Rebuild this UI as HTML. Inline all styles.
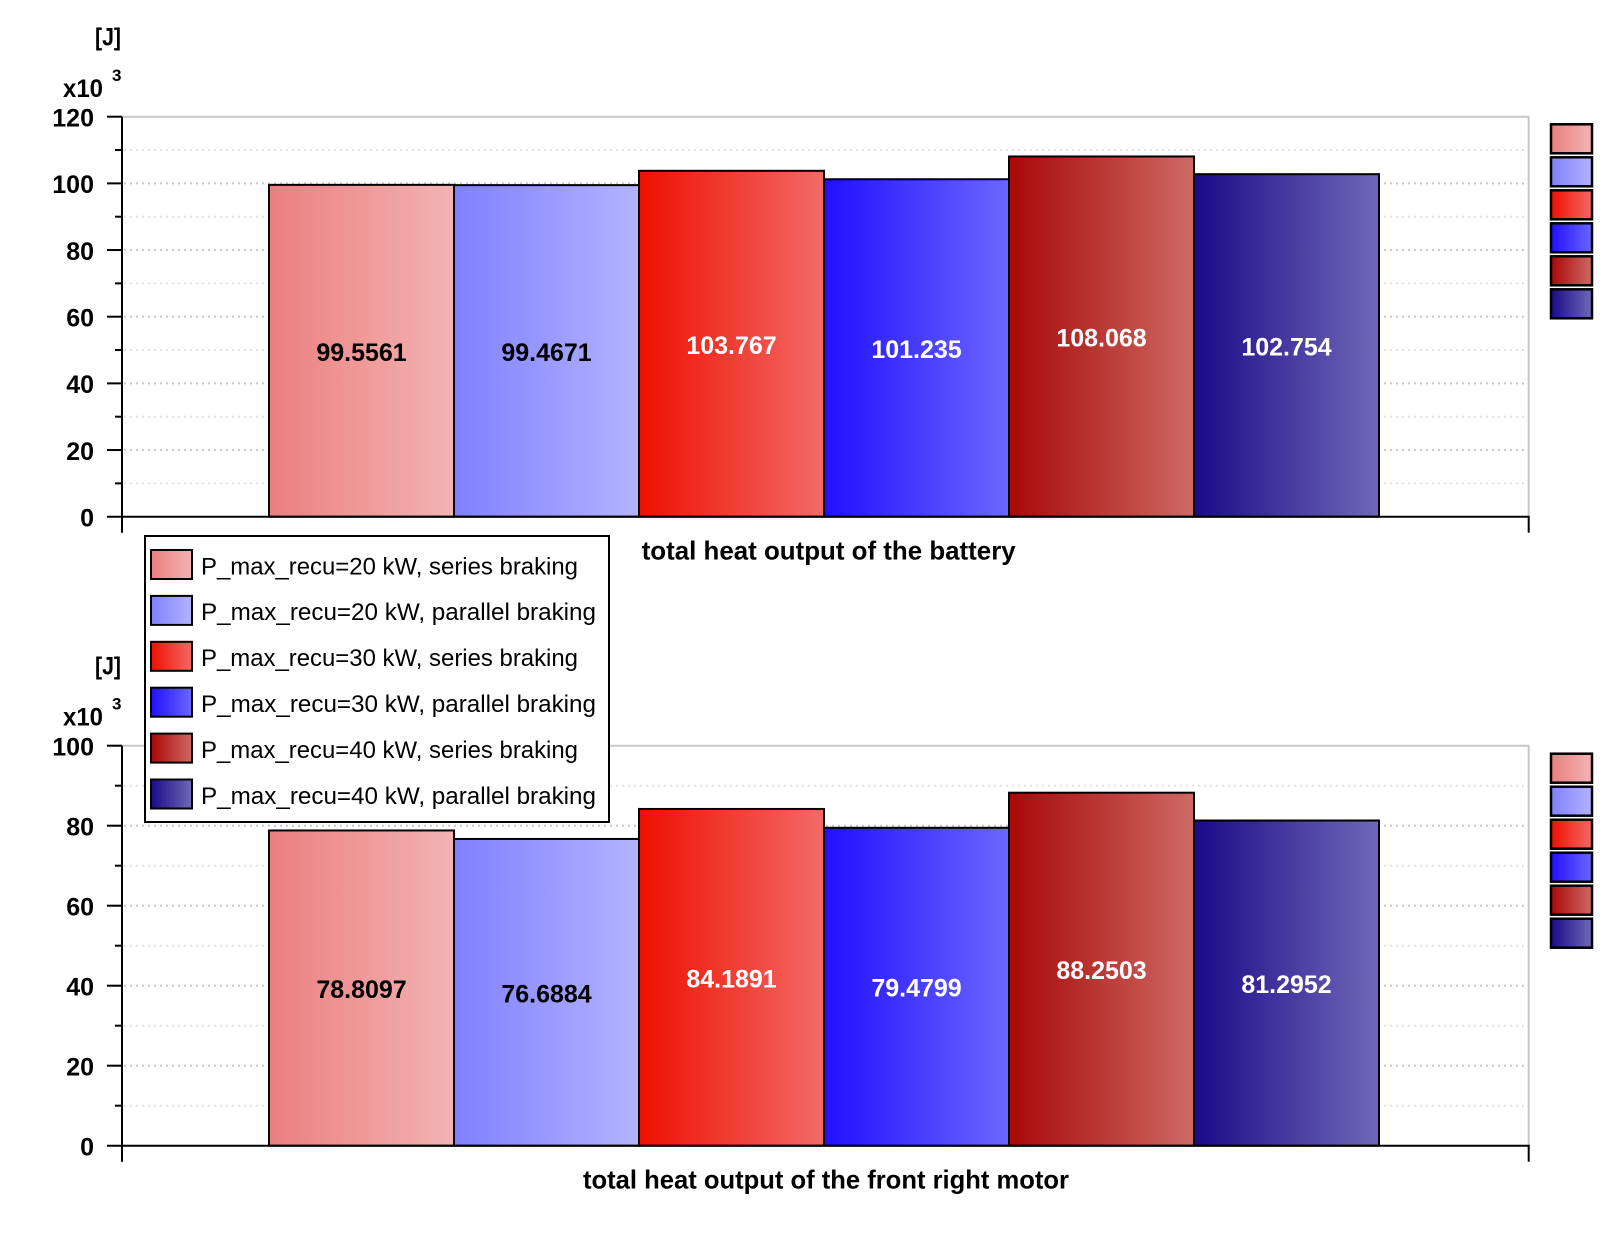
<!DOCTYPE html>
<html>
<head>
<meta charset="utf-8">
<style>
html,body{margin:0;padding:0;background:#fff;}
svg{display:block;}
text{font-family:"Liberation Sans",Arial,sans-serif;}
.b{font-weight:bold;font-size:25px;fill:#000;}
.t{font-weight:bold;font-size:26px;fill:#000;}
.lg{font-size:24px;fill:#000;}
</style>
</head>
<body>
<svg width="1600" height="1259" viewBox="0 0 1600 1259" xmlns="http://www.w3.org/2000/svg">
<defs>
<linearGradient id="g1" x1="0" x2="1" y1="0" y2="0"><stop offset="0" stop-color="#EB7F7F"/><stop offset="1" stop-color="#F3B3B3"/></linearGradient>
<linearGradient id="g2" x1="0" x2="1" y1="0" y2="0"><stop offset="0" stop-color="#8080FF"/><stop offset="1" stop-color="#B3B3FF"/></linearGradient>
<linearGradient id="g3" x1="0" x2="1" y1="0" y2="0"><stop offset="0" stop-color="#EE1000"/><stop offset="1" stop-color="#F36A66"/></linearGradient>
<linearGradient id="g4" x1="0" x2="1" y1="0" y2="0"><stop offset="0" stop-color="#200FFF"/><stop offset="1" stop-color="#6B67FF"/></linearGradient>
<linearGradient id="g5" x1="0" x2="1" y1="0" y2="0"><stop offset="0" stop-color="#A80808"/><stop offset="1" stop-color="#CE6964"/></linearGradient>
<linearGradient id="g6" x1="0" x2="1" y1="0" y2="0"><stop offset="0" stop-color="#1A0A88"/><stop offset="1" stop-color="#6E69B7"/></linearGradient>
</defs>

<!-- ================= TOP CHART ================= -->
<g stroke-width="2" stroke-dasharray="2 4">
<line x1="124" x2="1527" y1="150.03" y2="150.03" stroke="#e2e2e2"/>
<line x1="124" x2="1527" y1="183.37" y2="183.37" stroke="#c8c8c8"/>
<line x1="124" x2="1527" y1="216.7" y2="216.7" stroke="#e2e2e2"/>
<line x1="124" x2="1527" y1="250.03" y2="250.03" stroke="#c8c8c8"/>
<line x1="124" x2="1527" y1="283.37" y2="283.37" stroke="#e2e2e2"/>
<line x1="124" x2="1527" y1="316.7" y2="316.7" stroke="#c8c8c8"/>
<line x1="124" x2="1527" y1="350.03" y2="350.03" stroke="#e2e2e2"/>
<line x1="124" x2="1527" y1="383.37" y2="383.37" stroke="#c8c8c8"/>
<line x1="124" x2="1527" y1="416.7" y2="416.7" stroke="#e2e2e2"/>
<line x1="124" x2="1527" y1="450.03" y2="450.03" stroke="#c8c8c8"/>
<line x1="124" x2="1527" y1="483.37" y2="483.37" stroke="#e2e2e2"/>
</g>
<line x1="122" x2="1529" y1="116.7" y2="116.7" stroke="#c8c8c8" stroke-width="2"/>
<line x1="1528.7" x2="1528.7" y1="116.7" y2="516.7" stroke="#c8c8c8" stroke-width="2"/>

<g stroke="#000" stroke-width="2">
<rect x="269" y="184.85" width="185" height="331.85" fill="url(#g1)"/>
<rect x="454" y="185.13" width="185" height="331.57" fill="url(#g2)"/>
<rect x="639" y="170.81" width="185" height="345.89" fill="url(#g3)"/>
<rect x="824" y="179.25" width="185" height="337.45" fill="url(#g4)"/>
<rect x="1009" y="156.47" width="185" height="360.23" fill="url(#g5)"/>
<rect x="1194" y="174.19" width="185" height="342.51" fill="url(#g6)"/>
</g>
<g class="b" text-anchor="middle">
<text x="361.5" y="360.8">99.5561</text>
<text x="546.5" y="360.9">99.4671</text>
<text x="731.5" y="353.8" style="fill:#fff">103.767</text>
<text x="916.5" y="358" style="fill:#fff">101.235</text>
<text x="1101.5" y="346.6" style="fill:#fff">108.068</text>
<text x="1286.5" y="355.4" style="fill:#fff">102.754</text>
</g>

<g stroke="#000" stroke-width="2">
<line x1="122" x2="122" y1="116.7" y2="532.7"/>
<line x1="107" x2="1529.7" y1="516.7" y2="516.7"/>
<line x1="1528.7" x2="1528.7" y1="516.7" y2="532.7"/>
<line x1="107" x2="122" y1="116.7" y2="116.7"/>
<line x1="107" x2="122" y1="183.37" y2="183.37"/>
<line x1="107" x2="122" y1="250.03" y2="250.03"/>
<line x1="107" x2="122" y1="316.7" y2="316.7"/>
<line x1="107" x2="122" y1="383.37" y2="383.37"/>
<line x1="107" x2="122" y1="450.03" y2="450.03"/>
<line x1="115" x2="122" y1="150.03" y2="150.03"/>
<line x1="115" x2="122" y1="216.7" y2="216.7"/>
<line x1="115" x2="122" y1="283.37" y2="283.37"/>
<line x1="115" x2="122" y1="350.03" y2="350.03"/>
<line x1="115" x2="122" y1="416.7" y2="416.7"/>
<line x1="115" x2="122" y1="483.37" y2="483.37"/>
</g>
<g class="b" text-anchor="end">
<text x="94" y="126.5">120</text>
<text x="94" y="193.2">100</text>
<text x="94" y="259.8">80</text>
<text x="94" y="326.5">60</text>
<text x="94" y="393.2">40</text>
<text x="94" y="459.8">20</text>
<text x="94" y="526.5">0</text>
</g>
<text class="b" x="95" y="45.5" textLength="26" lengthAdjust="spacingAndGlyphs">[J]</text>
<text class="b" x="63" y="97" textLength="40" lengthAdjust="spacingAndGlyphs">x10</text>
<text class="b" x="112" y="81" style="font-size:17px">3</text>
<text class="t" x="641.7" y="559.5" textLength="374" lengthAdjust="spacingAndGlyphs">total heat output of the battery</text>

<g stroke="#000" stroke-width="2.5">
<rect x="1551" y="124.3" width="41" height="29" fill="url(#g1)"/>
<rect x="1551" y="157.3" width="41" height="29" fill="url(#g2)"/>
<rect x="1551" y="190.3" width="41" height="29" fill="url(#g3)"/>
<rect x="1551" y="223.3" width="41" height="29" fill="url(#g4)"/>
<rect x="1551" y="256.3" width="41" height="29" fill="url(#g5)"/>
<rect x="1551" y="289.3" width="41" height="29" fill="url(#g6)"/>
</g>

<!-- ================= BOTTOM CHART ================= -->
<g stroke-width="2" stroke-dasharray="2 4">
<line x1="124" x2="1527" y1="785.7" y2="785.7" stroke="#e2e2e2"/>
<line x1="124" x2="1527" y1="825.7" y2="825.7" stroke="#c8c8c8"/>
<line x1="124" x2="1527" y1="865.7" y2="865.7" stroke="#e2e2e2"/>
<line x1="124" x2="1527" y1="905.7" y2="905.7" stroke="#c8c8c8"/>
<line x1="124" x2="1527" y1="945.7" y2="945.7" stroke="#e2e2e2"/>
<line x1="124" x2="1527" y1="985.7" y2="985.7" stroke="#c8c8c8"/>
<line x1="124" x2="1527" y1="1025.7" y2="1025.7" stroke="#e2e2e2"/>
<line x1="124" x2="1527" y1="1065.7" y2="1065.7" stroke="#c8c8c8"/>
<line x1="124" x2="1527" y1="1105.7" y2="1105.7" stroke="#e2e2e2"/>
</g>
<line x1="122" x2="1529" y1="745.7" y2="745.7" stroke="#c8c8c8" stroke-width="2"/>
<line x1="1528.7" x2="1528.7" y1="745.7" y2="1145.7" stroke="#c8c8c8" stroke-width="2"/>

<g stroke="#000" stroke-width="2">
<rect x="269" y="830.46" width="185" height="315.24" fill="url(#g1)"/>
<rect x="454" y="838.95" width="185" height="306.75" fill="url(#g2)"/>
<rect x="639" y="808.94" width="185" height="336.76" fill="url(#g3)"/>
<rect x="824" y="827.78" width="185" height="317.92" fill="url(#g4)"/>
<rect x="1009" y="792.7" width="185" height="353" fill="url(#g5)"/>
<rect x="1194" y="820.52" width="185" height="325.18" fill="url(#g6)"/>
</g>
<g class="b" text-anchor="middle">
<text x="361.5" y="998.1">78.8097</text>
<text x="546.5" y="1002.3">76.6884</text>
<text x="731.5" y="987.3" style="fill:#fff">84.1891</text>
<text x="916.5" y="996.7" style="fill:#fff">79.4799</text>
<text x="1101.5" y="979.2" style="fill:#fff">88.2503</text>
<text x="1286.5" y="993.1" style="fill:#fff">81.2952</text>
</g>

<g stroke="#000" stroke-width="2">
<line x1="122" x2="122" y1="745.7" y2="1161.7"/>
<line x1="107" x2="1529.7" y1="1145.7" y2="1145.7"/>
<line x1="1528.7" x2="1528.7" y1="1145.7" y2="1161.7"/>
<line x1="107" x2="122" y1="745.7" y2="745.7"/>
<line x1="107" x2="122" y1="825.7" y2="825.7"/>
<line x1="107" x2="122" y1="905.7" y2="905.7"/>
<line x1="107" x2="122" y1="985.7" y2="985.7"/>
<line x1="107" x2="122" y1="1065.7" y2="1065.7"/>
<line x1="115" x2="122" y1="785.7" y2="785.7"/>
<line x1="115" x2="122" y1="865.7" y2="865.7"/>
<line x1="115" x2="122" y1="945.7" y2="945.7"/>
<line x1="115" x2="122" y1="1025.7" y2="1025.7"/>
<line x1="115" x2="122" y1="1105.7" y2="1105.7"/>
</g>
<g class="b" text-anchor="end">
<text x="94" y="755.5">100</text>
<text x="94" y="835.5">80</text>
<text x="94" y="915.5">60</text>
<text x="94" y="995.5">40</text>
<text x="94" y="1075.5">20</text>
<text x="94" y="1155.5">0</text>
</g>
<text class="b" x="95" y="674.5" textLength="26" lengthAdjust="spacingAndGlyphs">[J]</text>
<text class="b" x="63" y="725.3" textLength="40" lengthAdjust="spacingAndGlyphs">x10</text>
<text class="b" x="112" y="709.5" style="font-size:17px">3</text>
<text class="t" x="583" y="1188.5" textLength="486" lengthAdjust="spacingAndGlyphs">total heat output of the front right motor</text>

<g stroke="#000" stroke-width="2.5">
<rect x="1551" y="753.7" width="41" height="29" fill="url(#g1)"/>
<rect x="1551" y="786.7" width="41" height="29" fill="url(#g2)"/>
<rect x="1551" y="819.7" width="41" height="29" fill="url(#g3)"/>
<rect x="1551" y="852.7" width="41" height="29" fill="url(#g4)"/>
<rect x="1551" y="885.7" width="41" height="29" fill="url(#g5)"/>
<rect x="1551" y="918.7" width="41" height="29" fill="url(#g6)"/>
</g>

<!-- ================= LEGEND ================= -->
<rect x="145" y="536" width="464" height="286" fill="#fff" stroke="#000" stroke-width="2"/>
<g stroke="#000" stroke-width="2">
<rect x="151" y="550" width="41" height="29" fill="url(#g1)"/>
<rect x="151" y="595.9" width="41" height="29" fill="url(#g2)"/>
<rect x="151" y="641.8" width="41" height="29" fill="url(#g3)"/>
<rect x="151" y="687.7" width="41" height="29" fill="url(#g4)"/>
<rect x="151" y="733.6" width="41" height="29" fill="url(#g5)"/>
<rect x="151" y="779.5" width="41" height="29" fill="url(#g6)"/>
</g>
<g class="lg">
<text x="201" y="574.3" textLength="377" lengthAdjust="spacingAndGlyphs">P_max_recu=20 kW, series braking</text>
<text x="201" y="620.2" textLength="395" lengthAdjust="spacingAndGlyphs">P_max_recu=20 kW, parallel braking</text>
<text x="201" y="666.1" textLength="377" lengthAdjust="spacingAndGlyphs">P_max_recu=30 kW, series braking</text>
<text x="201" y="712" textLength="395" lengthAdjust="spacingAndGlyphs">P_max_recu=30 kW, parallel braking</text>
<text x="201" y="757.9" textLength="377" lengthAdjust="spacingAndGlyphs">P_max_recu=40 kW, series braking</text>
<text x="201" y="803.8" textLength="395" lengthAdjust="spacingAndGlyphs">P_max_recu=40 kW, parallel braking</text>
</g>
</svg>
</body>
</html>
